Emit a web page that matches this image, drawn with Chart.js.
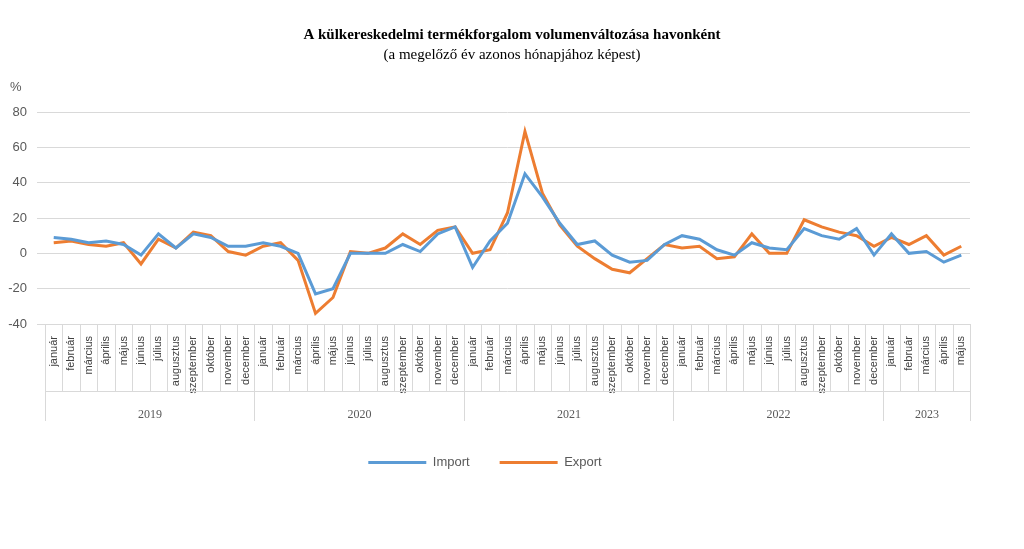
<!DOCTYPE html>
<html lang="hu">
<head>
<meta charset="UTF-8">
<title>Külkereskedelem</title>
<script src="https://cdn.jsdelivr.net/npm/chart.js@4.4.0/dist/chart.umd.min.js"></script>
<style>
  body { margin: 0; background: #fff; }
  #wrap { width: 1024px; height: 549px; }
</style>
</head>
<body>
<div id="wrap"><canvas id="chart"></canvas></div>
<script>
const months = ['január', 'február', 'március', 'április', 'május', 'június', 'július', 'augusztus',
  'szeptember', 'október', 'november', 'december'];
const years = ['2019', '2020', '2021', '2022', '2023'];
const monthsPerYear = [12, 12, 12, 12, 5];

const importValues = [9, 8, 6, 7, 5, -1, 11, 3, 11, 9, 4, 4,
  6, 4, 0, -23, -20, 0, 0, 0, 5, 1, 11, 15,
  -8, 7, 17, 45, 32, 17, 5, 7, -1, -5, -4, 5,
  10, 8, 2, -1, 6, 3, 2, 14, 10, 8, 14, -1,
  11, 0, 1, -5, -1];
const exportValues = [6, 7, 5, 4, 6, -6, 8, 3, 12, 10, 1, -1,
  4, 6, -4, -34, -25, 1, 0, 3, 11, 5, 13, 15,
  0, 2, 23, 69, 34, 16, 4, -3, -9, -11, -3, 5,
  3, 4, -3, -2, 11, 0, 0, 19, 15, 12, 10, 4,
  9, 5, 10, -1, 4];

const labels = [];
monthsPerYear.forEach(n => { for (let i = 0; i < n; i++) labels.push(months[i]); });

const serif = '"Liberation Serif", "Times New Roman", serif';
const sans = '"Liberation Sans", Arial, sans-serif';

// titles, % sign, month separators and year row
const decorations = {
  id: 'decorations',
  afterDraw(chart) {
    const c = chart.ctx;
    const x = chart.scales.x;
    const area = chart.chartArea;
    c.save();
    c.fillStyle = '#000';
    c.textAlign = 'center';
    c.font = 'bold 15px ' + serif;
    c.fillText('A külkereskedelmi termékforgalom volumenváltozása havonként', 512, 35);
    c.font = '15px ' + serif;
    c.fillText('(a megelőző év azonos hónapjához képest)', 512, 55);
    c.textAlign = 'left';
    c.font = '13px ' + sans;
    c.fillStyle = '#595959';
    c.fillText('%', 10, 87);

    const half = (x.getPixelForValue(1) - x.getPixelForValue(0)) / 2;
    const top = area.bottom;
    const monthBottom = 391;
    const yearBottom = 421;
    c.strokeStyle = '#d9d9d9';
    c.lineWidth = 1;
    let idx = 0;
    c.beginPath();
    for (let i = 0; i <= labels.length; i++) {
      const px = Math.round(x.getPixelForValue(i) - half) + 0.5;
      c.moveTo(px, top);
      c.lineTo(px, monthBottom);
    }
    c.moveTo(Math.round(x.getPixelForValue(0) - half), monthBottom + 0.5);
    c.lineTo(Math.round(x.getPixelForValue(labels.length - 1) + half), monthBottom + 0.5);
    c.stroke();

    c.fillStyle = '#595959';
    c.font = '12px ' + serif;
    c.textAlign = 'center';
    c.beginPath();
    years.forEach((y, k) => {
      const start = idx, end = idx + monthsPerYear[k] - 1;
      const l = Math.round(x.getPixelForValue(start) - half) + 0.5;
      const r = Math.round(x.getPixelForValue(end) + half) + 0.5;
      c.moveTo(l, monthBottom);
      c.lineTo(l, yearBottom);
      c.moveTo(r, monthBottom);
      c.lineTo(r, yearBottom);
      c.fillText(y, (l + r) / 2, 415);
      idx += monthsPerYear[k];
    });
    c.stroke();
    c.restore();
  }
};

new Chart(document.getElementById('chart'), {
  type: 'line',
  data: {
    labels: labels,
    datasets: [
      { label: 'Import', data: importValues, borderColor: '#5b9bd5', backgroundColor: '#5b9bd5',
        borderWidth: 3, pointRadius: 0, tension: 0 },
      { label: 'Export', data: exportValues, borderColor: '#ed7d31', backgroundColor: '#ed7d31',
        borderWidth: 3, pointRadius: 0, tension: 0 }
    ]
  },
  options: {
    responsive: true,
    maintainAspectRatio: false,
    animation: false,
    layout: { padding: { top: 112, right: 54, left: 0, bottom: 70 } },
    plugins: {
      legend: {
        position: 'bottom',
        labels: {
          font: { family: sans, size: 13 }, color: '#595959',
          boxWidth: 58, boxHeight: 3, padding: 30,
          generateLabels(chart) {
            return chart.data.datasets.map((d, i) => ({
              text: d.label, fillStyle: d.borderColor, strokeStyle: d.borderColor,
              lineWidth: 0, datasetIndex: i, fontColor: '#595959'
            }));
          }
        }
      },
      tooltip: { enabled: false }
    },
    scales: {
      x: {
        offset: true,
        grid: { display: false },
        border: { color: '#d9d9d9' },
        ticks: {
          autoSkip: false, minRotation: 90, maxRotation: 90,
          font: { family: sans, size: 11 }, color: '#404040', padding: 4
        },
        afterFit(scale) { scale.height = 102; }
      },
      y: {
        min: -40, max: 80,
        ticks: { stepSize: 20, font: { family: sans, size: 13 }, color: '#595959', padding: 10 },
        grid: { color: '#d9d9d9' },
        border: { display: false },
        afterFit(scale) { scale.width = 45; }
      }
    }
  },
  plugins: [decorations]
});
</script>
</body>
</html>
